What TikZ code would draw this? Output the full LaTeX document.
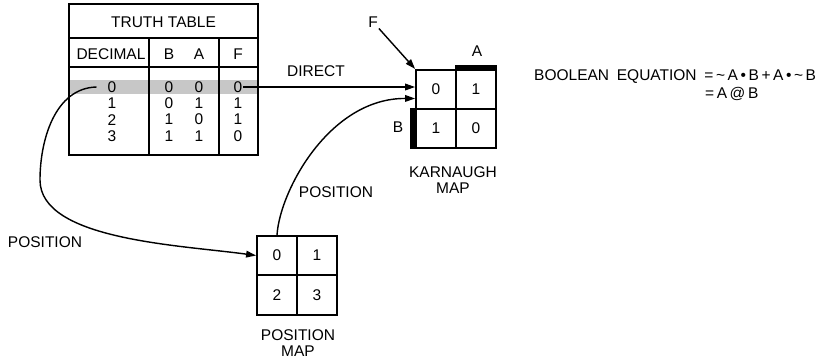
\documentclass[tikz,border=0pt]{standalone}
\usepackage{fontspec}
\setmainfont{Liberation Sans}
\usetikzlibrary{arrows.meta, positioning}

\begin{document}
\begin{tikzpicture}[x=0.6pt, y=-0.6pt,
  font=\fontsize{9.3}{9.6}\selectfont, inner sep=0.5pt,
  frame/.style={line width=1.2pt},
  cell/.style={draw, line width=1.1pt, minimum width=24pt,
    minimum height=23.6pt, inner sep=0pt},
  link/.style={line width=0.85pt, -{Triangle[length=6pt, width=4pt]}}]
  \useasboundingbox (0,0) rectangle (817,363);

  % Truth table
  \fill[black!22] (70,80) rectangle (258,94);
  \draw[frame] (69,4) rectangle (258,155);
  \draw[frame] (69,38) -- (258,38);
  \draw[frame] (69,67) -- (258,67);
  \draw[frame] (149,38) -- (149,155);
  \draw[frame] (219,38) -- (219,155);
  \node (ttitle) at (163.5,22) {TRUTH TABLE};
  \node (hdec) at (111,54) {DECIMAL};
  \node (hb) at (169,54) {B};
  \node (ha) at (199,54) {A};
  \node (hf) at (238,54) {F};
  \foreach \r/\bv/\av/\fv in {0/0/0/0, 1/0/1/1, 2/1/0/1, 3/1/1/0}{
    \pgfmathsetmacro\ry{87 + \r*16.3}
    \node (dec\r) at (112,\ry) {\r};
    \node (b\r) at (169,\ry) {\bv};
    \node (a\r) at (199,\ry) {\av};
    \node (f\r) at (238,\ry) {\fv};
  }

  % Karnaugh map
  \foreach \i/\j/\v in {0/0/0, 1/0/1, 0/1/1, 1/1/0}{
    \node[cell] (km\i\j) at (436+\i*40, 89.5+\j*39) {\v};
  }
  \fill (km10.north west) rectangle ([yshift=2.4pt]km10.north east);
  \fill ([xshift=-2.8pt]km01.north west) rectangle (km01.south west);
  \node (ka) at (477,51) {A};
  \node (kb) at (398,127) {B};
  \node (flbl) at (373,22) {F};
  \node[align=center] (kname) at (453,180) {KARNAUGH\\MAP};

  % Position map
  \foreach \i/\j/\v in {0/0/0, 1/0/1, 0/1/2, 1/1/3}{
    \node[cell] (pm\v) at (277+\i*40, 255.5+\j*39.5) {\v};
  }
  \node[align=center] (pname) at (298,343.5) {POSITION\\MAP};

  % Connectors
  \draw[link] (f0.east) -- (f0.east -| km00.west);
  \node (direct) at (316,71) {DIRECT};
  \draw[link] (flbl.south east) -- (km00.north west);
  \draw[link] ([xshift=-6pt]dec0.west) .. controls (55,88) and (40,140) .. (40,180)
    .. controls (40,240) and (180,245) .. (pm0.west);
  \node (posleft) at (45,242) {POSITION};
  \draw[link] (pm0.north) .. controls (280,190) and (330,98) .. ([yshift=-5.4pt]km00.west);
  \node (posup) at (336,192) {POSITION};

  % Boolean equation
  \node[anchor=west] (eq1) at (533,77)
    {BOOLEAN\enspace EQUATION\enspace=\,\textasciitilde\,A\,\textbullet\,B\,+\,A\,\textbullet\,\textasciitilde\,B};
  \node[anchor=west] (eq2) at (704,94) {=\,A\,@\,B};
\end{tikzpicture}
\end{document}
